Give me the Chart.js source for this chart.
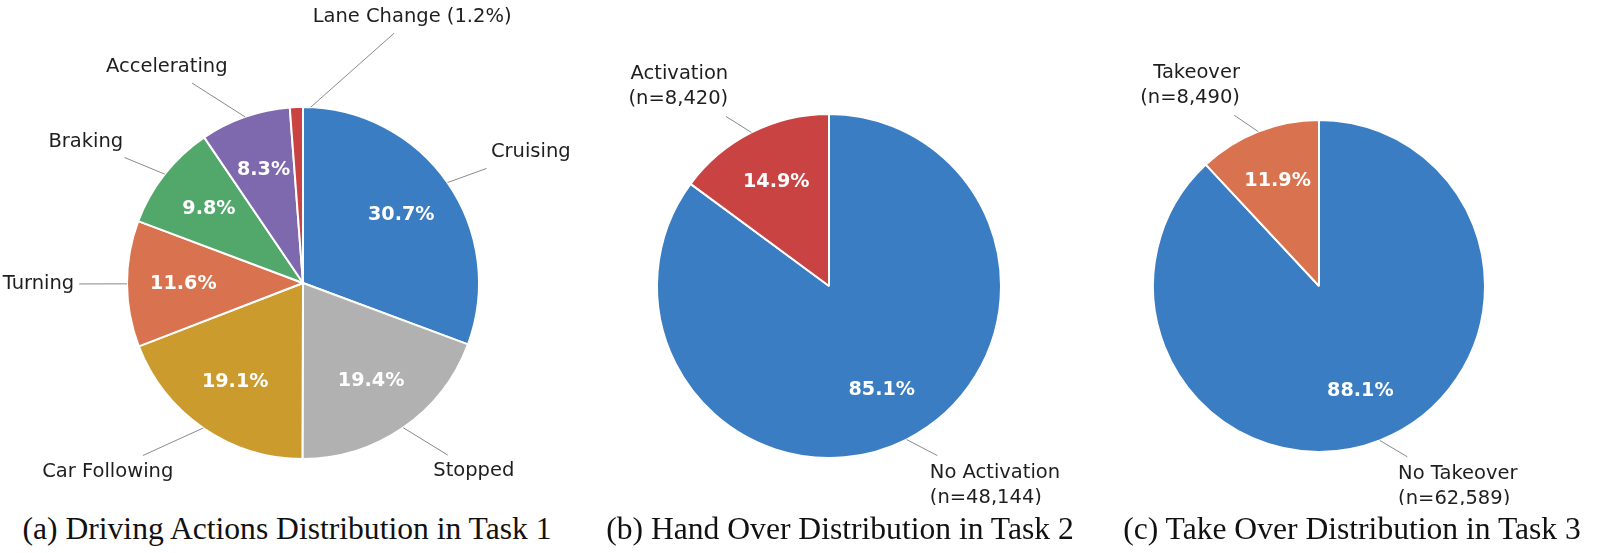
<!DOCTYPE html>
<html>
<head>
<meta charset="utf-8">
<script src="https://cdn.jsdelivr.net/npm/chart.js@4.4.1/dist/chart.umd.min.js"></script>
<style>
    body { margin: 0; background: #fff; width: 1600px; height: 553px; position: relative; overflow: hidden; }
    .panel { position: absolute; top: 0; }
    .caption {
        position: absolute; top: 513px; line-height: 1;
        font-family: "Liberation Serif", "Times New Roman", serif; font-size: 31.6px;
        color: #111; white-space: nowrap; transform: translateX(-50%);
    }
</style>
</head>
<body>
<div class="panel" style="left:0px"><canvas id="pieA" width="620" height="505"></canvas></div>
<div class="panel" style="left:560px"><canvas id="pieB" width="540" height="505"></canvas></div>
<div class="panel" style="left:1080px"><canvas id="pieC" width="520" height="505"></canvas></div>
<div class="caption" id="capA" style="left:287px"></div>
<div class="caption" id="capB" style="left:840px"></div>
<div class="caption" id="capC" style="left:1352px"></div>

<script>
// --- DATA ---
const actionLabels = ['Cruising', 'Stopped', 'Car Following', 'Turning', 'Braking', 'Accelerating', 'Lane Change'];
const actionShares = [30.7, 19.4, 19.1, 11.6, 9.8, 8.3, 1.2];

const handoverLabels = ['No Activation', 'Activation'];
const handoverCounts = [48144, 8420];

const takeoverLabels = ['No Takeover', 'Takeover'];
const takeoverCounts = [62589, 8490];

const captionTexts = [
    '(a) Driving Actions Distribution in Task 1',
    '(b) Hand Over Distribution in Task 2',
    '(c) Take Over Distribution in Task 3'
];

// --- STYLE ---
const BLUE = '#3a7dc3', GREY = '#b1b1b1', GOLD = '#cc9b2e', ORANGE = '#d9734f',
      GREEN = '#52a86b', PURPLE = '#7e68ae', RED = '#c94343';
const actionColors = [BLUE, GREY, GOLD, ORANGE, GREEN, PURPLE, RED];
const handoverColors = [BLUE, RED];
const takeoverColors = [BLUE, ORANGE];

const LABEL_FONT = '19.5px "DejaVu Sans", sans-serif';
const PCT_FONT = 'bold 19.2px "DejaVu Sans", sans-serif';
const TEXT_COLOR = '#1e1e1e';
const LEADER_COLOR = '#8a8a8a';
const LINE_H = 25;

// draws percentages inside and labels with leader lines outside
const pieLabels = {
    id: 'pieLabels',
    afterDatasetsDraw(chart, args, opts) {
        const ctx = chart.ctx;
        const meta = chart.getDatasetMeta(0);
        const values = chart.data.datasets[0].data;
        const total = values.reduce((a, b) => a + b, 0);

        meta.data.forEach((arc, i) => {
            const { x, y, startAngle, endAngle, outerRadius } =
                arc.getProps(['x', 'y', 'startAngle', 'endAngle', 'outerRadius'], true);
            const r = outerRadius;
            const mid = (startAngle + endAngle) / 2;
            const dx = Math.cos(mid), dy = Math.sin(mid);
            const pct = values[i] / total * 100;
            const pctText = pct.toFixed(1) + '%';
            const small = pct < opts.minInside;

            if (!small) {
                ctx.save();
                ctx.fillStyle = '#fff';
                ctx.font = PCT_FONT;
                ctx.textAlign = 'center';
                ctx.textBaseline = 'middle';
                ctx.fillText(pctText, x + dx * r * opts.pctDistance, y + dy * r * opts.pctDistance);
                ctx.restore();
            }

            const lines = [small ? `${chart.data.labels[i]} (${pctText})` : chart.data.labels[i]];
            if (opts.showCounts) lines.push(`(n=${values[i].toLocaleString('en-US')})`);

            ctx.save();
            ctx.font = LABEL_FONT;
            const w = Math.max(...lines.map(l => ctx.measureText(l).width));
            const h = lines.length > 1 ? lines.length * LINE_H : 22;

            const ov = (opts.overrides || {})[i];
            let align, ax, ay, x0, x1, sx, sy;
            if (ov) {
                align = 'center';
                ax = x + ov.text[0] * r; ay = y + ov.text[1] * r;
                x0 = ax - w / 2; x1 = ax + w / 2;
                sx = x + ov.from[0] * r; sy = y + ov.from[1] * r;
            } else {
                align = dx >= 0 ? 'left' : 'right';
                ax = x + dx * r * opts.labelDistance; ay = y + dy * r * opts.labelDistance;
                x0 = align === 'left' ? ax : ax - w;
                x1 = x0 + w;
                sx = x + dx * r; sy = y + dy * r;
            }
            const y0 = ay - h / 2, y1 = ay + h / 2;

            // leader line from wedge edge toward the text box centre, stopped at the padded box
            const cx = (x0 + x1) / 2, cy = ay, pad = 5;
            const vx = cx - sx, vy = cy - sy;
            let t = 0;
            if (Math.abs(vx) > 1e-6) t = Math.max(t, Math.min((x0 - pad - sx) / vx, (x1 + pad - sx) / vx));
            if (Math.abs(vy) > 1e-6) t = Math.max(t, Math.min((y0 - pad - sy) / vy, (y1 + pad - sy) / vy));
            ctx.strokeStyle = LEADER_COLOR;
            ctx.lineWidth = 1;
            ctx.beginPath();
            ctx.moveTo(sx, sy);
            ctx.lineTo(sx + vx * t, sy + vy * t);
            ctx.stroke();

            ctx.fillStyle = TEXT_COLOR;
            ctx.textAlign = align;
            ctx.textBaseline = 'middle';
            lines.forEach((l, k) => {
                ctx.fillText(l, ax, ay + (k - (lines.length - 1) / 2) * LINE_H);
            });
            ctx.restore();
        });
    }
};

function makePie(id, labels, values, colors, center, radius, labelOpts) {
    const canvas = document.getElementById(id);
    const side = 2 * radius + 2;
    const left = center[0] - side / 2, top = center[1] - side / 2;
    return new Chart(canvas, {
        type: 'pie',
        data: {
            labels,
            datasets: [{
                data: values,
                backgroundColor: colors,
                borderColor: '#ffffff',
                borderWidth: 2
            }]
        },
        options: {
            responsive: false,
            animation: false,
            events: [],
            layout: {
                padding: { left, top, right: canvas.width - left - side, bottom: canvas.height - top - side }
            },
            plugins: {
                legend: { display: false },
                tooltip: { enabled: false },
                pieLabels: Object.assign({ minInside: 2, pctDistance: 0.68, labelDistance: 1.3, showCounts: false }, labelOpts)
            }
        },
        plugins: [pieLabels]
    });
}

document.addEventListener('DOMContentLoaded', () => {
    makePie('pieA', actionLabels, actionShares, actionColors, [303, 283], 176, {
        overrides: { 6: { text: [0.62, -1.51], from: [0.045, -1.0] } }
    });
    makePie('pieB', handoverLabels, handoverCounts, handoverColors, [269, 286], 172, { showCounts: true });
    makePie('pieC', takeoverLabels, takeoverCounts, takeoverColors, [239, 286], 166, { showCounts: true });

    ['capA', 'capB', 'capC'].forEach((id, i) => {
        document.getElementById(id).textContent = captionTexts[i];
    });
});
</script>
</body>
</html>
